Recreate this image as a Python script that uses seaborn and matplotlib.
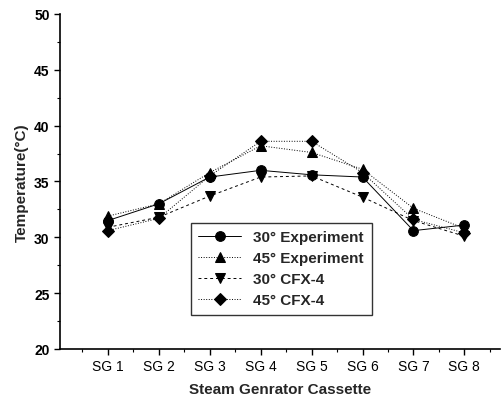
import matplotlib
matplotlib.use("Agg")
import matplotlib.pyplot as plt
import seaborn as sns
import pandas as pd
from matplotlib.ticker import MultipleLocator

categories = ["SG 1", "SG 2", "SG 3", "SG 4", "SG 5", "SG 6", "SG 7", "SG 8"]
exp30 = [31.5, 33.0, 35.4, 36.0, 35.6, 35.4, 30.6, 31.1]
exp45 = [31.9, 33.0, 35.8, 38.2, 37.6, 36.1, 32.6, 30.8]
cfx30 = [30.9, 31.8, 33.7, 35.4, 35.5, 33.6, 31.5, 30.1]
cfx45 = [30.6, 31.7, 35.5, 38.6, 38.6, 35.8, 31.6, 30.4]

series_names = ["30° Experiment", "45° Experiment", "30° CFX-4", "45° CFX-4"]

sns.set_theme(style="ticks")
plt.rcParams['font.family'] = ['Liberation Sans', 'DejaVu Sans']

fig = plt.figure(figsize=(5.02, 4.06), dpi=100)
ax = fig.add_axes([60/502, 56/406, 440/502, 335/406])

xs = list(range(1, len(categories) + 1))
styles = [
    (exp30, "o", "-"),
    (exp45, "^", ":"),
    (cfx30, "v", (0, (3, 3))),
    (cfx45, "D", ":"),
]
for name, (vals, mk, ls) in zip(series_names, styles):
    df = pd.DataFrame({"x": xs, "y": vals})
    sns.lineplot(data=df, x="x", y="y", ax=ax, color="black", marker=mk,
                 markersize=7 if mk != "D" else 6, linewidth=0.7,
                 linestyle=ls, label=name, markeredgecolor="black")

ax.set_xlim(0.06, 8.7)
ax.set_ylim(20, 50)
ax.set_xticks(xs)
ax.set_xticklabels(categories)
ax.xaxis.set_minor_locator(MultipleLocator(0.5))
ax.yaxis.set_major_locator(MultipleLocator(5))
ax.yaxis.set_minor_locator(MultipleLocator(2.5))
for s in ["top", "right"]:
    ax.spines[s].set_visible(False)
for s in ["left", "bottom"]:
    ax.spines[s].set_linewidth(1.2)
    ax.spines[s].set_color("black")
ax.tick_params(axis="both", which="major", length=4, width=1, color="black",
               labelsize=10, labelcolor="black")
ax.tick_params(axis="both", which="minor", length=2.5, width=0.8, color="black")
for lab in ax.get_yticklabels():
    lab.set_fontweight("bold")

ax.set_xlabel("Steam Genrator Cassette", fontsize=11, fontweight="bold", labelpad=6)
ax.set_ylabel("Temperature(°C)", fontsize=11, fontweight="bold", labelpad=4)

leg = ax.legend(loc="upper left", bbox_to_anchor=(0.28, 0.40), frameon=True,
                fancybox=False, edgecolor="black", prop={"weight": "bold", "size": 11},
                handlelength=2.8, borderpad=0.5, labelspacing=0.45)
leg.get_frame().set_linewidth(1.0)

fig.savefig("out.png", dpi=100)
